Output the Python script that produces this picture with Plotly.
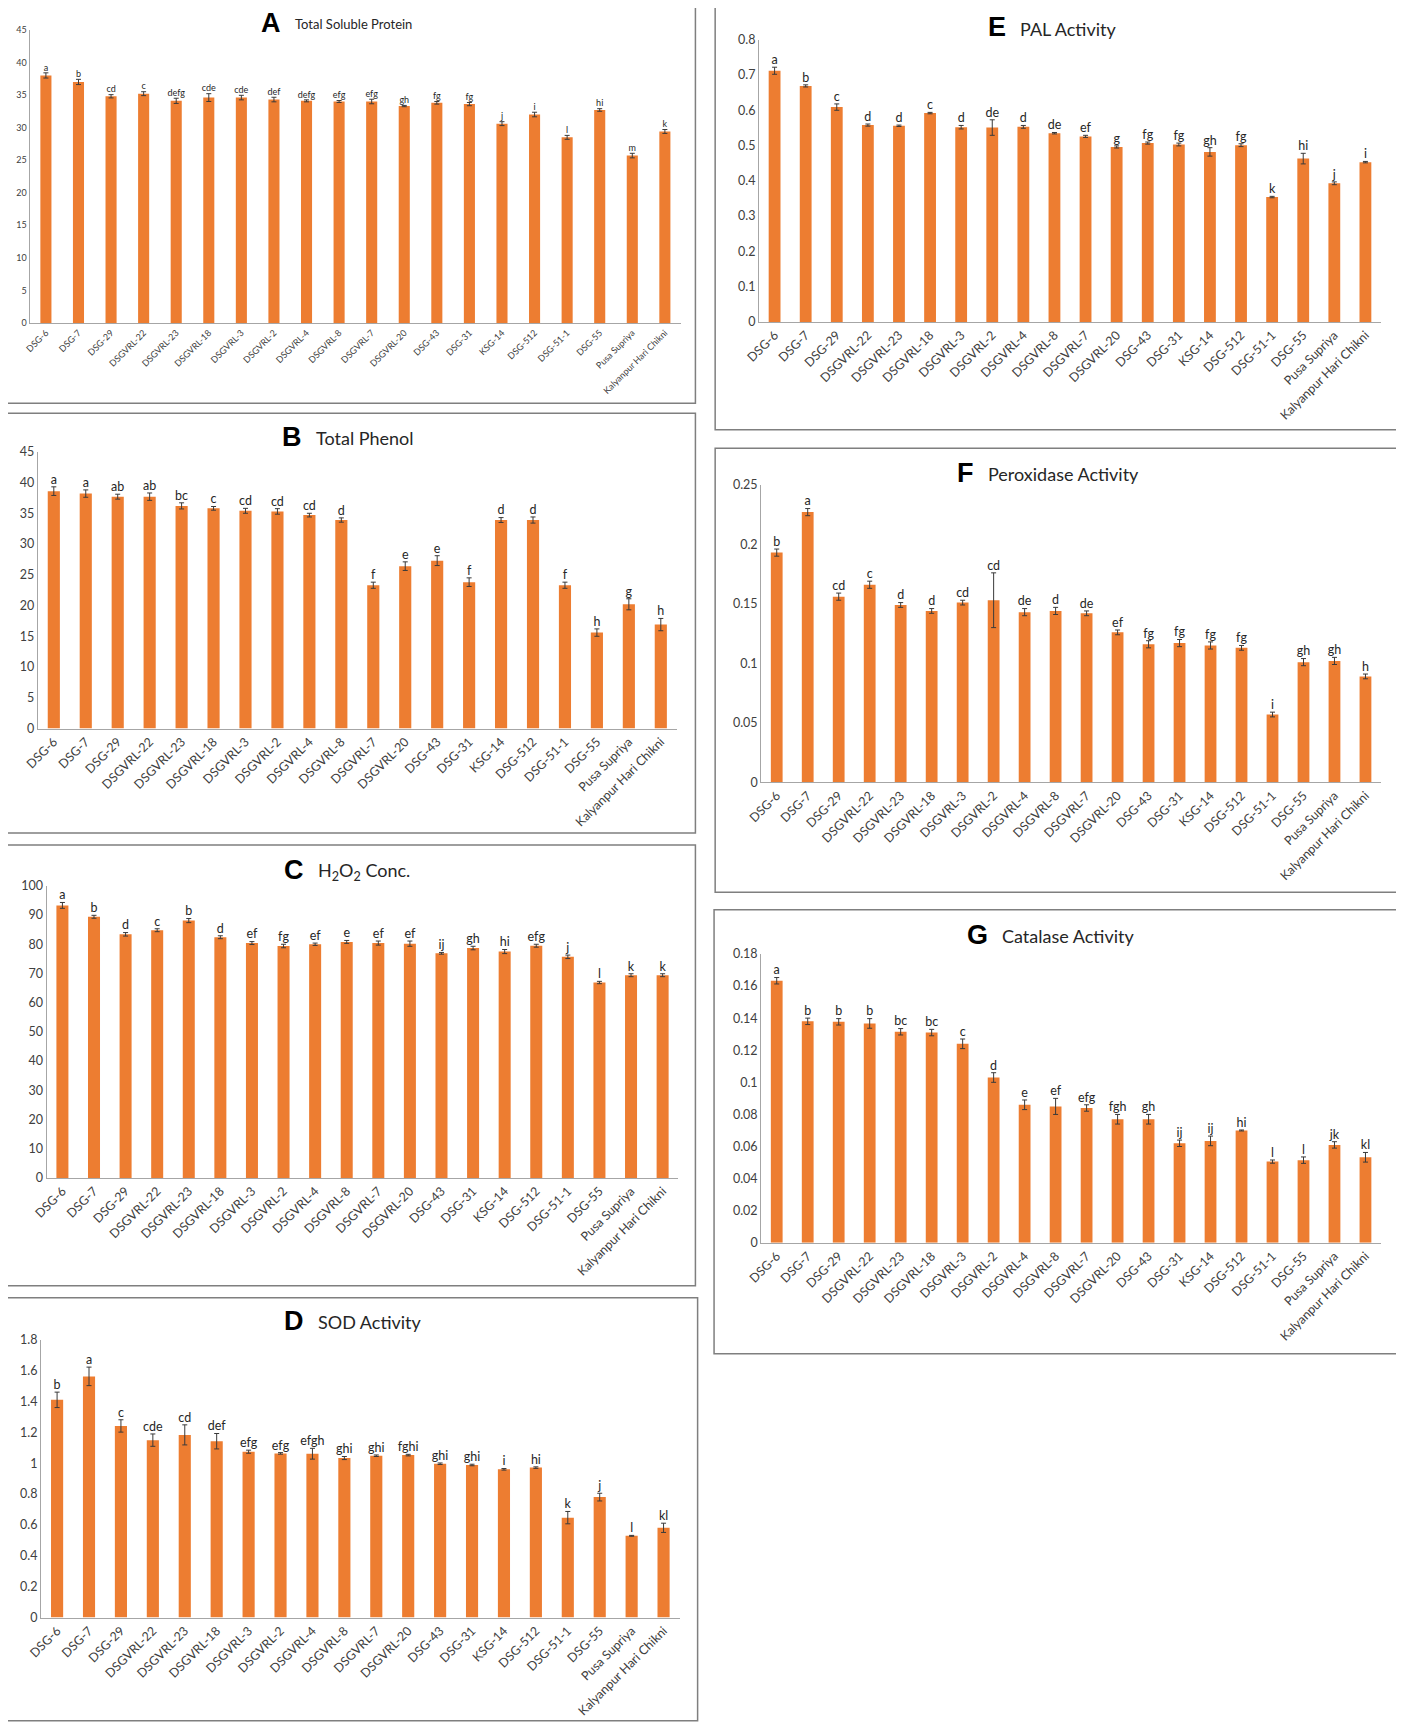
"""Biochemical traits of 20 genotypes: seven bar panels (A-G) with SE bars and DMRT letters."""

import plotly.graph_objects as go

PAGE_W, PAGE_H = 1404, 1723
OFFSET = 8  # default body margin of the html page
W, H = PAGE_W - OFFSET, PAGE_H - OFFSET
REF_W, REF_H = 1280, 1568  # layout measured on this grid

BAR = "#ED7D31"
AXIS = "#A6A6A6"
BOX = "#7F7F7F"
TXT = "#404040"
FONT = "Lato, 'Open Sans', sans-serif"

genotypes = [
    "DSG-6", "DSG-7", "DSG-29", "DSGVRL-22", "DSGVRL-23", "DSGVRL-18", "DSGVRL-3",
    "DSGVRL-2", "DSGVRL-4", "DSGVRL-8", "DSGVRL-7", "DSGVRL-20", "DSG-43", "DSG-31",
    "KSG-14", "DSG-512", "DSG-51-1", "DSG-55", "Pusa Supriya", "Kalyanpur Hari Chikni",
]

protein = [38.0, 37.0, 34.8, 35.2, 34.1, 34.6, 34.6, 34.3, 34.1, 34.0,
           34.0, 33.3, 33.8, 33.6, 30.6, 32.0, 28.5, 32.7, 25.7, 29.4]
protein_err = [0.4, 0.4, 0.25, 0.3, 0.4, 0.6, 0.35, 0.35, 0.15, 0.15,
               0.35, 0.1, 0.2, 0.25, 0.3, 0.35, 0.3, 0.2, 0.35, 0.3]
protein_grp = ["a", "b", "cd", "c", "defg", "cde", "cde", "def", "defg", "efg",
               "efg", "gh", "fg", "fg", "j", "i", "l", "hi", "m", "k"]

phenol = [38.6, 38.2, 37.7, 37.7, 36.2, 35.8, 35.4, 35.3, 34.7, 33.9,
          23.3, 26.4, 27.3, 23.8, 33.9, 33.9, 23.3, 15.6, 20.2, 16.9]
phenol_err = [0.7, 0.6, 0.4, 0.6, 0.5, 0.3, 0.4, 0.45, 0.3, 0.35,
              0.5, 0.7, 0.8, 0.7, 0.4, 0.5, 0.5, 0.6, 0.9, 1.0]
phenol_grp = ["a", "a", "ab", "ab", "bc", "c", "cd", "cd", "cd", "d",
              "f", "e", "e", "f", "d", "d", "f", "h", "g", "h"]

h2o2 = [93.3, 89.4, 83.4, 84.8, 88.1, 82.4, 80.4, 79.4, 80.0, 80.8,
        80.4, 80.2, 76.9, 78.7, 77.5, 79.5, 75.7, 66.9, 69.4, 69.4]
h2o2_err = [1.0, 0.5, 0.6, 0.5, 0.7, 0.5, 0.5, 0.6, 0.4, 0.5,
            0.7, 0.9, 0.3, 0.6, 0.7, 0.5, 0.6, 0.4, 0.5, 0.5]
h2o2_grp = ["a", "b", "d", "c", "b", "d", "ef", "fg", "ef", "e",
            "ef", "ef", "ij", "gh", "hi", "efg", "j", "l", "k", "k"]

sod = [1.410, 1.562, 1.241, 1.149, 1.183, 1.142, 1.074, 1.063, 1.061, 1.033,
       1.048, 1.052, 0.996, 0.988, 0.960, 0.971, 0.647, 0.780, 0.529, 0.581]
sod_err = [0.05, 0.06, 0.04, 0.04, 0.065, 0.05, 0.01, 0.005, 0.035, 0.01,
           0.005, 0.005, 0.005, 0.005, 0.005, 0.005, 0.04, 0.025, 0.003, 0.03]
sod_grp = ["b", "a", "c", "cde", "cd", "def", "efg", "efg", "efgh", "ghi",
           "ghi", "fghi", "ghi", "ghi", "i", "hi", "k", "j", "l", "kl"]

pal = [0.712, 0.669, 0.609, 0.558, 0.556, 0.592, 0.552, 0.551, 0.553, 0.535,
       0.526, 0.496, 0.507, 0.503, 0.482, 0.501, 0.354, 0.463, 0.393, 0.453]
pal_err = [0.010, 0.003, 0.009, 0.003, 0.002, 0.002, 0.005, 0.022, 0.004, 0.002,
           0.003, 0.003, 0.003, 0.004, 0.012, 0.004, 0.002, 0.015, 0.004, 0.002]
pal_grp = ["a", "b", "c", "d", "d", "c", "d", "de", "d", "de",
           "ef", "g", "fg", "fg", "gh", "fg", "k", "hi", "j", "i"]

pox = [0.193, 0.227, 0.156, 0.166, 0.149, 0.144, 0.151, 0.153, 0.143, 0.144,
       0.142, 0.126, 0.116, 0.117, 0.115, 0.113, 0.057, 0.101, 0.102, 0.089]
pox_err = [0.003, 0.003, 0.003, 0.003, 0.002, 0.002, 0.002, 0.023, 0.003, 0.003,
           0.002, 0.002, 0.003, 0.003, 0.003, 0.002, 0.002, 0.003, 0.003, 0.002]
pox_grp = ["b", "a", "cd", "c", "d", "d", "cd", "cd", "de", "d",
           "de", "ef", "fg", "fg", "fg", "fg", "i", "gh", "gh", "h"]

cat = [0.1633, 0.138, 0.1377, 0.1367, 0.1315, 0.131, 0.124, 0.103, 0.086, 0.085,
       0.084, 0.077, 0.077, 0.062, 0.0635, 0.070, 0.0506, 0.0515, 0.061, 0.0533]
cat_err = [0.002, 0.002, 0.002, 0.003, 0.002, 0.002, 0.003, 0.003, 0.003, 0.005,
           0.002, 0.003, 0.003, 0.002, 0.003, 0.0003, 0.001, 0.002, 0.002, 0.003]
cat_grp = ["a", "b", "b", "b", "bc", "bc", "c", "d", "e", "ef",
           "efg", "fgh", "gh", "ij", "ij", "hi", "l", "l", "jk", "kl"]

# letter, title, data, error, groups, ymax, dtick,
# panel box (x0, y0, x1, y1), plot area (x0, y0, x1, y1), letter right edge, title y, small fonts?
panels = [
    ("A", "Total Soluble Protein", protein, protein_err, protein_grp, 45, 5,
     (2, 2, 634, 367), (27, 27, 621, 294), 258, 21, True),
    ("B", "Total Phenol", phenol, phenol_err, phenol_grp, 45, 5,
     (2, 376, 634, 758), (34.5, 411, 617, 663), 277, 398, False),
    ("C", "H<sub>2</sub>O<sub>2</sub> Conc.", h2o2, h2o2_err, h2o2_grp, 100, 10,
     (2, 769, 634, 1170), (42.5, 806, 618.5, 1072), 279, 792, False),
    ("D", "SOD Activity", sod, sod_err, sod_grp, 1.8, 0.2,
     (2, 1181, 636, 1566), (37.5, 1219, 619.5, 1472), 279, 1202, False),
    ("E", "PAL Activity", pal, pal_err, pal_grp, 0.8, 0.1,
     (652, 2, 1276, 391), (692, 36, 1259, 293), 919, 25, False),
    ("F", "Peroxidase Activity", pox, pox_err, pox_grp, 0.25, 0.05,
     (652, 408, 1276, 812), (694, 441, 1259, 712), 890, 430, False),
    ("G", "Catalase Activity", cat, cat_err, cat_grp, 0.18, 0.02,
     (651, 828, 1276, 1232), (694, 868, 1259, 1131), 903, 851, False),
]


def px(x):
    return (x * PAGE_W / REF_W - OFFSET) / W


def py(y):
    return 1 - (y * PAGE_H / REF_H - OFFSET) / H


fig = go.Figure()
shapes, annotations = [], []

for i, (letter, title, vals, errs, grp, ymax, dtick, box, area, lx, ty, small) in enumerate(panels):
    n = "" if i == 0 else str(i + 1)
    xa, ya = f"x{n}", f"y{n}"
    tick_size = 9 if small else 12.5
    lbl_size = 9 if small else 12.5
    title_size = 13 if small else 18

    fig.add_trace(go.Bar(
        x=genotypes, y=vals, xaxis=xa, yaxis=ya,
        marker=dict(color=BAR, line_width=0), width=0.34 if small else 0.38,
        error_y=dict(type="data", array=errs, color="#3a3a3a", thickness=1, width=2.5),
        showlegend=False, hoverinfo="x+y",
    ))
    fig.add_trace(go.Scatter(
        x=genotypes, y=[v + e for v, e in zip(vals, errs)], xaxis=xa, yaxis=ya,
        mode="text", text=grp, textposition="top center",
        textfont=dict(size=lbl_size, color="#262626", family=FONT),
        showlegend=False, hoverinfo="skip", cliponaxis=False,
    ))

    fig.layout[f"xaxis{n}"] = dict(
        domain=[px(area[0]), px(area[2])], anchor=ya, type="category",
        range=[-0.5, len(genotypes) - 0.5],
        showline=True, linecolor=AXIS, linewidth=1.2, showgrid=False, ticks="",
        tickangle=-45, tickfont=dict(size=tick_size, color=TXT, family=FONT),
        automargin=False, fixedrange=True,
    )
    fig.layout[f"yaxis{n}"] = dict(
        domain=[py(area[3]), py(area[1])], anchor=xa,
        range=[0, ymax * 1.0005], dtick=dtick, tick0=0,
        showline=True, linecolor=AXIS, linewidth=1.2, showgrid=False, zeroline=False,
        ticks="", tickfont=dict(size=tick_size, color=TXT, family=FONT),
        automargin=False, fixedrange=True,
    )

    shapes.append(dict(
        type="rect", xref="paper", yref="paper",
        x0=px(box[0]), x1=px(box[2]), y0=py(box[3]), y1=py(box[1]),
        line=dict(color=BOX, width=1.5), fillcolor="rgba(0,0,0,0)", layer="below",
    ))
    annotations.append(dict(
        xref="paper", yref="paper", x=px(lx), y=py(ty), xanchor="right", yanchor="middle",
        text=f"<b>{letter}</b>", showarrow=False,
        font=dict(size=27, color="black", family="'Liberation Sans', Arial, sans-serif"),
    ))
    annotations.append(dict(
        xref="paper", yref="paper", x=px(lx + 9), y=py(ty + 1), xanchor="left", yanchor="middle",
        text=title, showarrow=False, font=dict(size=title_size, color="#262626", family=FONT),
    ))

fig.update_layout(
    width=W, height=H, margin=dict(l=0, r=0, t=0, b=0),
    paper_bgcolor="white", plot_bgcolor="white",
    shapes=shapes, annotations=annotations, bargap=0.6,
)

fig.write_html("out.html")
